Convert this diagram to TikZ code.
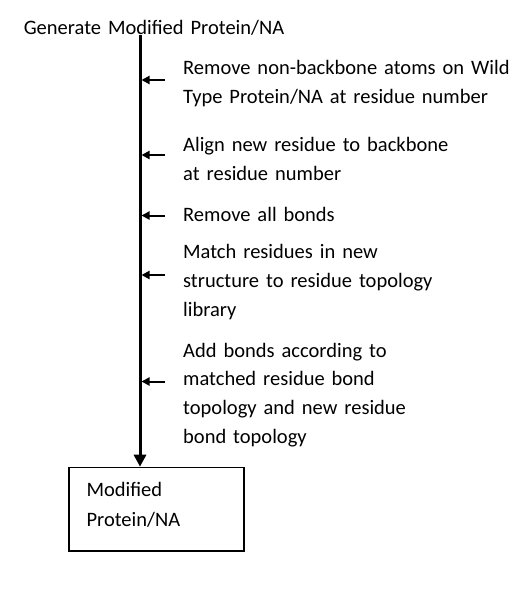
\documentclass[tikz,border=0pt]{standalone}
\usepackage{fontspec}
\setmainfont{Carlito}[WordSpace=1.5]
\usepackage{tikz}
\usetikzlibrary{arrows.meta}

\begin{document}
\begin{tikzpicture}[x=1pt, y=-1pt,
    steptext/.style={anchor=base west, align=left, inner sep=0pt,
      font=\fontsize{20.5}{28.8}\selectfont},
    feed/.style={-{Triangle[length=8pt,width=8pt]}, line width=2pt, shorten >=1.5pt}]
    \useasboundingbox (0,0) rectangle (528,591);
    \node[anchor=base, inner sep=0pt, font=\fontsize{20.5}{28.8}\selectfont] (title) at (154,35)
      {Generate Modified Protein/NA};
    \node[draw, line width=1.6pt, minimum width=175pt, minimum height=83.5pt, anchor=north west,
      align=left, text width=140pt, inner xsep=16pt, inner ysep=0pt, font=\fontsize{20.5}{30}\selectfont]
      (result) at (68.3,466.7) {Modified\\Protein/NA\rule[-9pt]{0pt}{9pt}};
    \coordinate (top) at (140,35);
    \draw[-{Triangle[length=12pt,width=12pt]}, line width=3pt] (top) -- (top |- result.north);

    % steps fed into the main line (anchored on their last baseline)
    \node[steptext] (strip) at (183,103.5) {Remove non-backbone atoms on Wild\\Type Protein/NA at residue number};
    \node[steptext] (align) at (183,180.5) {Align new residue to backbone\\at residue number};
    \node[steptext] (unbond) at (183,221.5) {Remove all bonds};
    \node[steptext] (match) at (183,316.5) {Match residues in new\\structure to residue topology\\library};
    \node[steptext] (rebond) at (183,443.5) {Add bonds according to\\matched residue bond\\topology and new residue\\bond topology};

    \coordinate (f1) at (165,80);
    \coordinate (f2) at (165,155);
    \coordinate (f3) at (165,215.5);
    \coordinate (f4) at (165,275);
    \coordinate (f5) at (165,381.5);
    \draw[feed] (f1) -- (f1 -| top);
    \draw[feed] (f2) -- (f2 -| top);
    \draw[feed] (f3) -- (f3 -| top);
    \draw[feed] (f4) -- (f4 -| top);
    \draw[feed] (f5) -- (f5 -| top);
  \end{tikzpicture}
\end{document}
